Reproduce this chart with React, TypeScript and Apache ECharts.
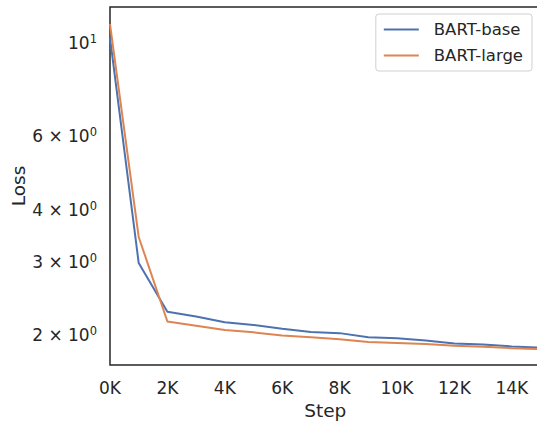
import React, { useEffect, useRef } from "react";
import * as echarts from "echarts";

// Training steps (every 1K) and loss for each model
const steps = [0, 1000, 2000, 3000, 4000, 5000, 6000, 7000, 8000, 9000, 10000, 11000, 12000, 13000, 14000, 15000];
const bartBase = [10.3, 2.98, 2.28, 2.22, 2.15, 2.12, 2.075, 2.04, 2.026, 1.98, 1.97, 1.946, 1.913, 1.903, 1.883, 1.87];
const bartLarge = [11.1, 3.44, 2.16, 2.11, 2.06, 2.035, 2.0, 1.98, 1.96, 1.93, 1.92, 1.908, 1.89, 1.88, 1.865, 1.855];
const yTickValues = [2, 3, 4, 6, 10];

const FONT = "DejaVu Sans";
const INK = "#262626";
const TICK_SIZE = 17;
const LEGEND_SIZE = 16.5;
const LABEL_SIZE = 18.5;

export default function App() {
  const ref = useRef<HTMLDivElement>(null);

  useEffect(() => {
    if (!ref.current) return;
    const chart = echarts.init(ref.current, null, { renderer: "svg" });
    chart.setOption({
      animation: false,
      backgroundColor: "#ffffff",
      grid: {
        left: 110,
        top: 7,
        right: -3.5,
        bottom: 63,
        containLabel: false,
        outerBoundsMode: "none",
        show: true,
        borderColor: INK,
        borderWidth: 1.5,
        backgroundColor: "transparent",
      },
      legend: {
        orient: "vertical",
        right: 5,
        top: 14,
        padding: [6, 9, 6, 8],
        itemGap: 7,
        itemWidth: 35,
        itemHeight: 2,
        icon: "rect",
        borderColor: "#d0d0d0",
        borderWidth: 1,
        borderRadius: 3,
        backgroundColor: "#ffffff",
        textStyle: {
          fontFamily: FONT,
          fontSize: LEGEND_SIZE,
          color: INK,
          lineHeight: 19,
          padding: [0, 0, 0, 10],
        },
        data: ["BART-base", "BART-large"],
      },
      xAxis: {
        type: "value",
        min: 0,
        max: 15000,
        interval: 2000,
        name: "Step",
        nameLocation: "middle",
        nameGap: 36,
        nameMoveOverlap: false,
        nameTextStyle: { fontFamily: FONT, fontSize: LABEL_SIZE, color: INK },
        axisLine: { show: false },
        axisTick: { show: false },
        splitLine: { show: false },
        axisLabel: {
          fontFamily: FONT,
          fontSize: TICK_SIZE,
          color: INK,
          margin: 14.5,
          showMaxLabel: false,
          formatter: (v: number) => `${v / 1000}K`,
        },
      },
      yAxis: {
        type: "log",
        logBase: 10,
        min: 1.7,
        max: 12.2,
        name: "Loss",
        nameLocation: "middle",
        nameGap: 82,
        nameMoveOverlap: false,
        nameTextStyle: { fontFamily: FONT, fontSize: LABEL_SIZE, color: INK },
        axisLine: { show: false },
        axisTick: { show: false },
        splitLine: { show: false },
        axisLabel: {
          customValues: yTickValues,
          margin: 13,
          formatter: (v: number) => {
            const r = Math.round(v);
            return r === 10 ? "{m|10}{s|1}" : `{m|${r} × 10}{s|0}`;
          },
          rich: {
            m: { fontFamily: FONT, fontSize: TICK_SIZE, color: INK, lineHeight: 20 },
            s: { fontFamily: FONT, fontSize: 11.5, color: INK, lineHeight: 11, verticalAlign: "top" },
          },
        },
      },
      series: [
        {
          name: "BART-base",
          type: "line",
          data: steps.map((s, i) => [s, bartBase[i]]),
          symbol: "none",
          lineStyle: { color: "#4C72B0", width: 2 },
          itemStyle: { color: "#4C72B0" },
        },
        {
          name: "BART-large",
          type: "line",
          data: steps.map((s, i) => [s, bartLarge[i]]),
          symbol: "none",
          lineStyle: { color: "#DD8452", width: 2 },
          itemStyle: { color: "#DD8452" },
        },
      ],
    });
    return () => chart.dispose();
  }, []);

  return (
    <div
      ref={ref}
      style={{ position: "fixed", left: 0, top: 0, width: 537, height: 428 }}
    />
  );
}
